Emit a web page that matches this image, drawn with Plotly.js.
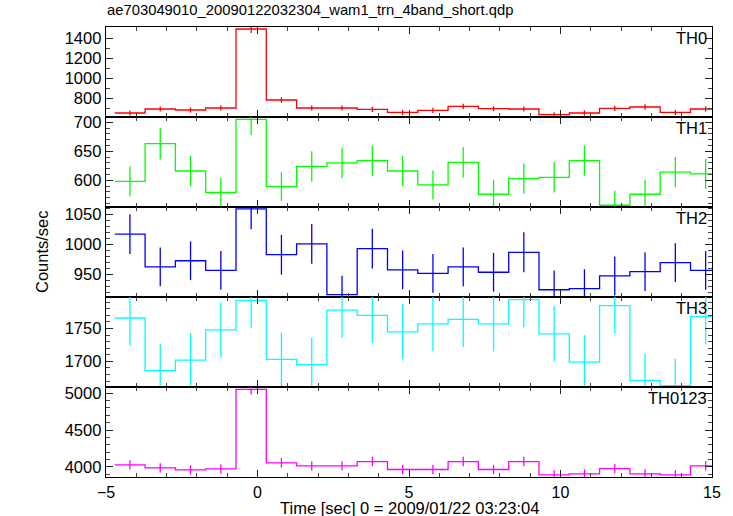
<!DOCTYPE html>
<html>
<head>
<meta charset="utf-8">
<script src="https://cdn.plot.ly/plotly-3.0.1.min.js"></script>
<style>html,body{margin:0;padding:0;background:#fff;}#chart{width:733px;height:516px;}</style>
</head>
<body>
<div id="chart"></div>
<script>
// ---- data ----
var binCenters = [-4.21,-3.21,-2.21,-1.21,-0.21,0.79,1.79,2.79,3.79,4.79,5.79,6.79,7.79,8.79,9.79,10.79,11.79,12.79,13.79,14.79];
var binHalfWidth = [0.5,0.5,0.5,0.5,0.5,0.5,0.5,0.5,0.5,0.5,0.5,0.5,0.5,0.5,0.5,0.5,0.5,0.5,0.5,0.5];

var th0 = [650,690,680,700,1490,780,700,700,686,656,676,716,693,690,633,650,696,710,656,690];
var th0Err = [26,26,26,26,39,28,26,26,26,26,26,27,26,26,25,26,26,27,26,26];

var th1 = [598,663,616,579,705,589,624,630,634,616,592,631,576,603,605,634,557,576,614,611];
var th1Err = [26,27,26,25,27,25,26,26,26,26,25,26,25,26,26,26,25,25,26,26];

var th2 = [1017,963,973,957,1059,983,1001,917,993,958,952,963,954,987,925,927,948,955,970,957];
var th2Err = [33,32,32,32,34,33,33,31,33,32,32,32,32,33,32,32,32,32,32,32];

var th3 = [1766,1686,1702,1748,1793,1703,1695,1778,1770,1745,1757,1764,1757,1794,1742,1699,1785,1671,1663,1768];
var th3Err = [42,41,41,42,42,41,41,42,42,42,42,42,42,42,42,41,42,41,41,42];

var th0123 = [4027,3986,3959,3973,5054,4054,4014,4014,4072,3964,3964,4072,3964,4072,3892,3905,3977,3905,3892,4014];
var th0123Err = [64,63,63,63,71,64,63,63,64,63,63,64,63,64,62,62,63,62,62,63];

var panelNames = ["TH0","TH1","TH2","TH3","TH0123"];
var panelValues = [th0, th1, th2, th3, th0123];
var panelErrors = [th0Err, th1Err, th2Err, th3Err, th0123Err];
var panelColors = ["#ff0000","#00ff00","#0000ff","#00ffff","#ff00ff"];
var panelRanges = [[610,1510],[554,709],[913,1062],[1661,1798],[3862,5085]];
var panelDtick = [200,50,50,50,500];
var panelMinor = [100,10,10,10,100];

var titleText = "ae703049010_20090122032304_wam1_trn_4band_short.qdp";
var xTitle = "Time [sec] 0 = 2009/01/22 03:23:04";
var yTitle = "Counts/sec";
// ----------------------------------------

var FONT = "Liberation Sans, Arial, Helvetica, sans-serif";
var FS = 16.5;
var traces = [];
var layout = {
  width: 733, height: 516,
  margin: {l: 106, r: 21, t: 27, b: 39, pad: 0},
  paper_bgcolor: "#ffffff", plot_bgcolor: "#ffffff",
  showlegend: false,
  font: {family: FONT, size: FS, color: "#000"},
  title: {text: titleText, x: 0, xref: "paper", xanchor: "left", y: 1, yref: "container", yanchor: "top", pad: {t: 5, l: 1}, font: {family: FONT, size: 14.8, color: "#000"}},
  annotations: []
};

var n = panelNames.length;
for (var i = 0; i < n; i++) {
  var suf = i === 0 ? "" : String(i + 1);
  var xa = "x" + suf, ya = "y" + suf;
  var vals = panelValues[i];
  var ex = [], ey = [];
  for (var k = 0; k < binCenters.length; k++) {
    ex.push(binCenters[k] - binHalfWidth[k]); ey.push(vals[k]);
  }
  var last = binCenters.length - 1;
  ex.push(binCenters[last] + binHalfWidth[last]); ey.push(vals[last]);
  traces.push({
    type: "scatter", mode: "lines", x: ex, y: ey, xaxis: xa, yaxis: ya,
    line: {shape: "hv", color: panelColors[i], width: 1.3}, hoverinfo: "skip"
  });
  traces.push({
    type: "scatter", mode: "markers", x: binCenters, y: vals, xaxis: xa, yaxis: ya,
    marker: {size: 1, color: "rgba(0,0,0,0)"},
    error_y: {type: "data", array: panelErrors[i], visible: true, width: 0, thickness: 1.3, color: panelColors[i]},
    hoverinfo: "skip"
  });
  var d0 = (n - 1 - i) / n, d1 = (n - i) / n;
  layout["xaxis" + suf] = {
    domain: [0, 1], anchor: ya, range: [-5, 15], matches: i === 0 ? undefined : "x",
    tick0: 0, dtick: 5, ticks: "inside", ticklen: 7, tickwidth: 1, tickcolor: "#222",
    minor: {dtick: 1, ticks: "inside", ticklen: 4, tickwidth: 1, tickcolor: "#444", showgrid: false},
    showticklabels: i === n - 1, showgrid: false, zeroline: false,
    showline: true, linecolor: "#000", linewidth: 1.3, mirror: "ticks",
    tickfont: {family: FONT, size: 16, color: "#000"}
  };
  layout["yaxis" + suf] = {
    domain: [d0, d1], anchor: xa, range: panelRanges[i],
    tick0: 0, dtick: panelDtick[i], ticks: "inside", ticklen: 7, tickwidth: 1, tickcolor: "#222",
    minor: {dtick: panelMinor[i], ticks: "inside", ticklen: 4, tickwidth: 1, tickcolor: "#444", showgrid: false},
    showgrid: false, zeroline: false, showline: true, linecolor: "#000", linewidth: 1.3, mirror: "ticks",
    tickfont: {family: FONT, size: FS, color: "#000"}, exponentformat: "none"
  };
  layout.annotations.push({
    text: panelNames[i], xref: xa + " domain", yref: ya + " domain", x: 1, y: 1,
    xanchor: "right", yanchor: "top", xshift: -3, yshift: 0, showarrow: false,
    font: {family: FONT, size: FS, color: "#000"}
  });
}
layout.annotations.push({
  text: yTitle, xref: "paper", yref: "paper", x: 0, y: 0.5, xshift: -64,
  textangle: -90, xanchor: "center", yanchor: "middle", showarrow: false,
  font: {family: FONT, size: FS, color: "#000"}
});
layout.annotations.push({
  text: xTitle, xref: "paper", yref: "paper", x: 0.5, y: 0, yshift: -21,
  xanchor: "center", yanchor: "top", showarrow: false, borderpad: 0,
  font: {family: FONT, size: FS, color: "#000"}
});

Plotly.newPlot("chart", traces, layout, {displayModeBar: false, staticPlot: true});
</script>
</body>
</html>
